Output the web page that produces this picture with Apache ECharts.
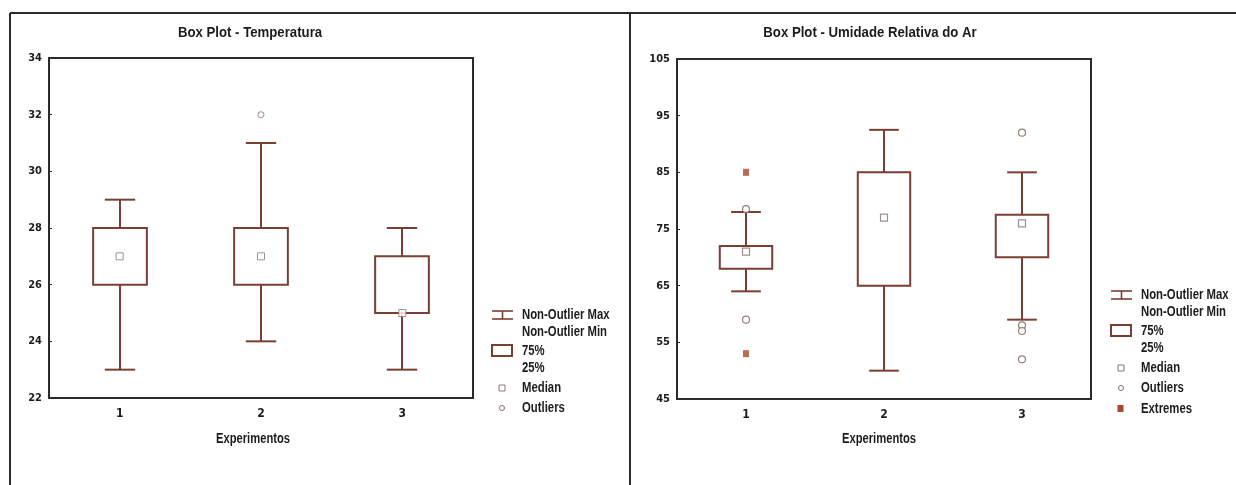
<!DOCTYPE html>
<html><head><meta charset="utf-8">
<script src="https://cdn.jsdelivr.net/npm/echarts@6/dist/echarts.min.js"></script>
<style>html,body{margin:0;padding:0;background:#fff}#c{width:1236px;height:485px}</style>
</head><body><div id="c"></div><script>
// ---- data ----
const categories = ['1', '2', '3'];
const tempTicks = [22, 24, 26, 28, 30, 32, 34];
const tempMin = [23, 24, 23];
const tempQ1 = [26, 26, 25];
const tempMedian = [27, 27, 25];
const tempQ3 = [28, 28, 27];
const tempMax = [29, 31, 28];
const tempOutliers = [['2', 32]];

const humTicks = [45, 55, 65, 75, 85, 95, 105];
const humMin = [64, 50, 59];
const humQ1 = [68, 65, 70];
const humMedian = [71, 77, 76];
const humQ3 = [72, 85, 77.5];
const humMax = [78, 92.5, 85];
const humOutliers = [['1', 78.5], ['1', 59], ['3', 92], ['3', 58], ['3', 57], ['3', 52]];
const humExtremes = [['1', 85], ['1', 53]];

// ---- style ----
const FONT = '"Liberation Sans", Arial, sans-serif';
const AXFONT = '"DejaVu Sans Condensed", "Liberation Sans", sans-serif';
const BOX = '#7a3f33';
const TXT = '#1c1c1c';
const FRAME = '#2a2a2a';

function boxData(mn, q1, md, q3, mx) {
  return categories.map((c, i) => [i, mn[i], q1[i], md[i], q3[i], mx[i]]);
}
function renderBox(params, api) {
  const i = api.value(0);
  const lo = api.coord([i, api.value(1)]);
  const q1 = api.coord([i, api.value(2)]);
  const q3 = api.coord([i, api.value(4)]);
  const hi = api.coord([i, api.value(5)]);
  const band = api.size([1, 0])[0];
  const bw = band * 0.38, cw = band * 0.215;
  const cx = Math.round(lo[0]);
  const ls = { stroke: BOX, lineWidth: 2 };
  return {
    type: 'group', children: [
      { type: 'line', shape: { x1: cx, y1: hi[1], x2: cx, y2: q3[1] }, style: ls },
      { type: 'line', shape: { x1: cx, y1: q1[1], x2: cx, y2: lo[1] }, style: ls },
      { type: 'line', shape: { x1: cx - cw / 2, y1: hi[1], x2: cx + cw / 2, y2: hi[1] }, style: ls },
      { type: 'line', shape: { x1: cx - cw / 2, y1: lo[1], x2: cx + cw / 2, y2: lo[1] }, style: ls },
      { type: 'rect', shape: { x: cx - bw / 2, y: q3[1], width: bw, height: q1[1] - q3[1] },
        style: { fill: '#fff', stroke: BOX, lineWidth: 2 } }
    ]
  };
}
function medianData(md) { return categories.map((c, i) => [c, md[i]]); }

function xAx(gi) {
  return {
    gridIndex: gi, type: 'category', data: categories,
    axisLine: { lineStyle: { color: FRAME, width: 2 } },
    axisTick: { inside: true, length: 3, lineStyle: { color: FRAME } },
    axisLabel: { fontFamily: AXFONT, fontSize: 12, fontWeight: 'bold', color: TXT, margin: 10 },
    splitLine: { show: false }
  };
}
function yAx(gi, ticks) {
  return {
    gridIndex: gi, type: 'value', min: ticks[0], max: ticks[ticks.length - 1],
    axisLine: { show: true, lineStyle: { color: FRAME, width: 2 } },
    axisTick: { show: true, inside: true, length: 3, customValues: ticks, lineStyle: { color: FRAME } },
    axisLabel: { customValues: ticks, fontFamily: AXFONT, fontSize: 11, fontWeight: 'bold', color: TXT, margin: 7 },
    splitLine: { show: false }
  };
}

const chart = echarts.init(document.getElementById('c'), null, { renderer: 'canvas' });

function txt(t, x, y, size, sx, align) {
  return { type: 'text', x: x, y: y, scaleX: sx,
    style: { text: t, font: 'bold ' + size + 'px ' + FONT, fill: TXT, textAlign: align || 'left', textVerticalAlign: 'middle' } };
}

function legend(x0, y0, withExtremes) {
  const tx = x0 + 30;
  const ts = (t, y) => txt(t, tx, y, 14, 0.81);
  const els = [
    { type: 'line', shape: { x1: x0, y1: y0 - 4, x2: x0 + 21, y2: y0 - 4 }, style: { stroke: BOX, lineWidth: 1.6 } },
    { type: 'line', shape: { x1: x0 + 10.5, y1: y0 - 4, x2: x0 + 10.5, y2: y0 + 4 }, style: { stroke: BOX, lineWidth: 1.6 } },
    { type: 'line', shape: { x1: x0, y1: y0 + 4, x2: x0 + 21, y2: y0 + 4 }, style: { stroke: BOX, lineWidth: 1.6 } },
    ts('Non-Outlier Max', y0), ts('Non-Outlier Min', y0 + 17),
    { type: 'rect', shape: { x: x0, y: y0 + 30, width: 20, height: 11 }, style: { fill: '#fff', stroke: BOX, lineWidth: 2 } },
    ts('75%', y0 + 36), ts('25%', y0 + 53),
    { type: 'rect', shape: { x: x0 + 7, y: y0 + 70, width: 6, height: 6 }, style: { fill: '#fff', stroke: '#8a7b78', lineWidth: 1 } },
    ts('Median', y0 + 73),
    { type: 'circle', shape: { cx: x0 + 10, cy: y0 + 93, r: 2.5 }, style: { fill: '#fff', stroke: '#8a6f6a', lineWidth: 1 } },
    ts('Outliers', y0 + 93)
  ];
  if (withExtremes) {
    els.push({ type: 'rect', shape: { x: x0 + 6.5, y: y0 + 110, width: 6, height: 7 }, style: { fill: '#a8472c' } });
    els.push(ts('Extremes', y0 + 114));
  }
  return els;
}

const graphics = [
  { type: 'line', shape: { x1: 10, y1: 13, x2: 1236, y2: 13 }, style: { stroke: FRAME, lineWidth: 2 } },
  { type: 'line', shape: { x1: 10, y1: 13, x2: 10, y2: 485 }, style: { stroke: FRAME, lineWidth: 2 } },
  { type: 'line', shape: { x1: 630, y1: 13, x2: 630, y2: 485 }, style: { stroke: FRAME, lineWidth: 2 } },
  txt('Box Plot - Temperatura', 250, 33, 15, 0.88, 'center'),
  txt('Box Plot - Umidade Relativa do Ar', 870, 33, 15, 0.88, 'center'),
  txt('Experimentos', 253, 439, 14, 0.8, 'center'),
  txt('Experimentos', 879, 439, 14, 0.8, 'center')
].concat(legend(492, 315, false), legend(1111, 295, true));

chart.setOption({
  animation: false,
  backgroundColor: '#fff',
  grid: [
    { left: 49, top: 58, width: 424, height: 340, show: true, borderColor: FRAME, borderWidth: 2, backgroundColor: 'transparent' },
    { left: 677, top: 59, width: 414, height: 340, show: true, borderColor: FRAME, borderWidth: 2, backgroundColor: 'transparent' }
  ],
  xAxis: [xAx(0), xAx(1)],
  yAxis: [yAx(0, tempTicks), yAx(1, humTicks)],
  graphic: graphics,
  series: [
    { type: 'custom', xAxisIndex: 0, yAxisIndex: 0, renderItem: renderBox, encode: { x: 0, y: [1, 2, 3, 4, 5] },
      data: boxData(tempMin, tempQ1, tempMedian, tempQ3, tempMax), z: 2 },
    { type: 'scatter', xAxisIndex: 0, yAxisIndex: 0, symbol: 'rect', symbolSize: 7, z: 3,
      itemStyle: { color: '#fff', borderColor: '#8a7b78', borderWidth: 1 }, data: medianData(tempMedian) },
    { type: 'scatter', xAxisIndex: 0, yAxisIndex: 0, symbol: 'circle', symbolSize: 6, z: 3,
      itemStyle: { color: '#fff', borderColor: '#8a6f6a', borderWidth: 1 }, data: tempOutliers },

    { type: 'custom', xAxisIndex: 1, yAxisIndex: 1, renderItem: renderBox, encode: { x: 0, y: [1, 2, 3, 4, 5] },
      data: boxData(humMin, humQ1, humMedian, humQ3, humMax), z: 2 },
    { type: 'scatter', xAxisIndex: 1, yAxisIndex: 1, symbol: 'rect', symbolSize: 7, z: 3,
      itemStyle: { color: '#fff', borderColor: '#857470', borderWidth: 1.2 }, data: medianData(humMedian) },
    { type: 'scatter', xAxisIndex: 1, yAxisIndex: 1, symbol: 'circle', symbolSize: 7, z: 3,
      itemStyle: { color: '#fff', borderColor: '#7d5f59', borderWidth: 1.2 }, data: humOutliers },
    { type: 'scatter', xAxisIndex: 1, yAxisIndex: 1, symbol: 'rect', symbolSize: [6, 7], z: 3,
      itemStyle: { color: '#a8472c' }, data: humExtremes }
  ]
});
</script></body></html>
